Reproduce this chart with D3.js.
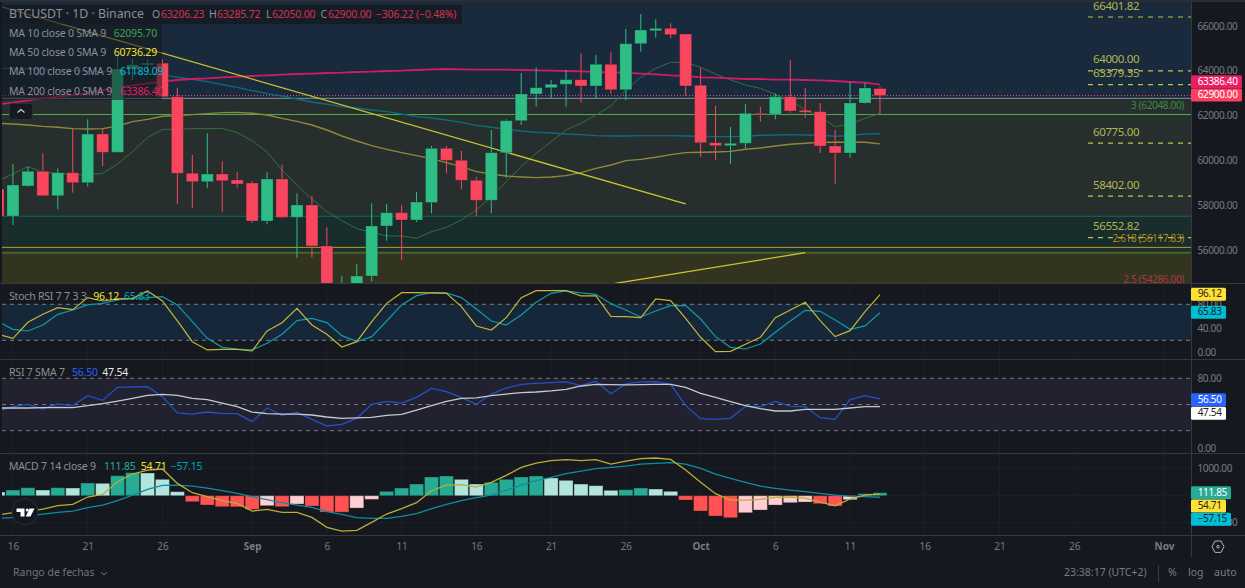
<!DOCTYPE html>
<html>
<head>
<meta charset="utf-8">
<script src="https://cdn.jsdelivr.net/npm/d3@7"></script>
<style>
  html, body { margin: 0; padding: 0; background: #15181e; overflow: hidden; }
  svg { display: block; font-family: "Noto Sans", sans-serif; }
  text { dominant-baseline: middle; }
</style>
</head>
<body>
<script>
// ------------  DATA  ------------
const firstDay = "2024-08-15";

const opens = [58723,57518,58857,59514,58424,59451,59005,61179,60362,64080,64270,64340,62844,59424,59050,59393,59125,58992,57295,59170,57460,58009,56179,53950,54160,54840,57072,57666,57340,58120,60540,60005,59112,58219,60344,61773,62964,63246,63397,63603,63322,64290,63156,65210,65790,65897,65643,63353,60790,60657,60764,62103,62060,62844,62236,62175,60643,60331,62563,63206.23];
const closes = [57518,58902,59514,58424,59451,59005,61179,60362,64080,64270,64340,62844,59424,59050,59393,59094,58947,57295,59170,57460,58009,56179,53950,54160,54840,57072,57666,57340,58143,60540,60005,59112,58219,60344,61773,62964,63246,63397,63603,63322,64290,63156,65210,65821,65897,65612,63322,60790,60657,60764,62103,62060,62844,62206,62148,60643,60331,62563,63232,62900];
const highs = [59100,59840,59718,60317,59648,61402,61835,61402,64630,64527,64500,64513,63246,60241,61210,59960,59483,59081,59469,59826,58532,58411,57014,54840,55362,58085,58054,57996,58590,60643,60643,60420,59246,61357,61835,63902,64156,63589,64036,64781,64705,64853,65866,66536,66299,66121,65643,64139,62429,61491,62505,62384,62996,64482,63232,62563,61357,63469,63469,63285.72];
const lows = [57300,57116,58826,58424,57817,58559,58826,59750,60362,63589,64000,62844,58054,57889,58755,57710,58782,57219,57148,57429,55657,55675,53700,53700,53700,54586,56416,55568,57250,57639,59424,58710,57518,57639,59228,61581,62398,62773,62398,62576,62773,62964,62697,64853,65478,65451,62889,60166,60018,59853,60540,61728,61835,62130,61907,60331,58960,60121,62530,62050];

const ma10 = [59081,59394,59721,59468,59423,59349,59349,59423,59840,60391,61016,61388,61388,61417,61417,61432,61239,60882,60376,59572,58903,58278,57712,57310,56953,56790,56626,56626,56522,56819,57013,57340,57787,58382,59051,59721,60316,60837,61358,61655,62027,62429,63143,63709,64111,64378,64378,64155,63858,63590,63367,63218,62950,62697,62251,61953,61507,61626,61879,62095.7];
const ma50 = [61655,61626,61581,61521,61477,61417,61402,61417,61536,61730,61834,61968,61998,62042,62087,62132,62146,62102,62027,61879,61745,61581,61358,61090,60867,60658,60495,60346,60212,60078,59900,59721,59498,59394,59304,59260,59230,59260,59319,59453,59647,59795,59989,60048,60138,60257,60346,60361,60376,60405,60495,60554,60644,60718,60763,60807,60807,60822,60807,60736.29];
const ma100 = [64111,64096,64081,64066,64051,64021,63992,63962,63932,63902,63873,63828,63709,63620,63515,63381,63262,63114,62980,62876,62742,62608,62504,62399,62340,62251,62176,62072,61953,61893,61804,61700,61566,61477,61388,61313,61254,61224,61179,61149,61105,61090,61090,61105,61105,61105,61090,61075,61060,61060,61075,61120,61135,61149,61135,61120,61075,61105,61179,61189.09];
const ma200 = [62504,62578,62682,62757,62846,62920,63024,63143,63262,63352,63441,63515,63590,63634,63664,63709,63739,63768,63798,63828,63858,63873,63902,63917,63947,63962,63992,64006,64036,64066,64081,64066,64051,64051,64051,64036,64021,64006,63992,63977,63947,63932,63917,63873,63843,63798,63768,63709,63694,63664,63634,63634,63605,63605,63590,63575,63545,63501,63471,63386.4];

const stochK = [30,23.3,50,63.3,74.4,71.1,91.1,85.5,88.9,90,102.2,85.5,52.2,17.7,3.9,5,5,2.2,35.5,49.4,73.3,45.5,30,8.9,17.7,51.1,81.6,99.4,99.4,98.9,98.3,76.1,43.9,37.2,57.8,91.1,102.8,102.8,102.8,93.9,93.9,60,59.4,57.8,88.9,86.1,56.6,25,1.1,1.6,13.3,25,57.8,70.5,83.3,52.8,26.1,36.1,67.8,96.12];
const stochD = [51.1,38.3,35.5,45.5,63.3,70.5,78.9,81.6,87.2,90,91.1,92.8,78.9,51.1,23.3,8.3,5.5,3.9,15,30,52.8,56.6,49.4,27.7,17.7,26.1,52.2,78.9,94.4,99.4,98.9,91.1,72.2,52.2,45.5,62.2,83.3,98.3,102.2,98.9,96.6,81.1,70.5,58.9,68.9,77.8,77.8,55.5,26.1,8.3,5.5,13.9,33.3,52.2,70,68.3,53.9,38.3,43.9,65.83];

const rsi = [42.6,47.5,50.2,44.9,50.6,48.7,60.1,54.8,69.7,70.1,70.4,59,40.3,39.1,41.4,39.9,39.5,30.4,46,37.6,41,33,25.4,27.3,34.2,50.2,53.6,51.7,58.2,68.5,64.7,57.8,50.2,62,68.9,73.1,74.3,75,75.8,71.6,76.6,62.4,73.5,75.8,76.2,73.1,48.7,33.8,33,34.2,47.9,47.5,53.6,47.9,47.5,34.9,33,55.6,60.1,56.5];
const rsiSma = [46,46,46,46.4,46.8,46.4,48.7,51,54,57.1,60.5,61.7,60.5,57.1,55.6,51.7,47.5,41.4,39.5,39.1,39.1,38,35.7,34.2,34.6,35.3,37.6,38.8,43.7,48.7,53.6,57.1,57.5,60.1,62,63.6,64.3,65.5,67.4,71.2,73.1,72.7,72.4,72.7,73.1,73.1,69.7,62.8,58.2,53.3,48.7,45.2,42.6,42.6,44.5,44.5,44.5,46,47.5,47.54];

const macdHist = [136,210,296,210,296,284,469,457,741,852,840,605,148,-222,-346,-408,-412,-506,-370,-408,-309,-383,-605,-608,-457,-136,161,284,432,692,729,605,432,494,605,692,729,655,568,432,370,198,222,284,247,161,-161,-568,-753,-815,-630,-531,-346,-259,-235,-296,-383,-148,74,111.85];
const macdLine = [-716,-630,-580,-494,-370,-321,-49,49,519,803,951,988,457,111,-37,-185,-284,-568,-506,-618,-618,-803,-1173,-1309,-1284,-988,-679,-482,-259,185,395,408,321,494,753,1050,1210,1297,1334,1297,1334,1173,1284,1371,1396,1346,951,494,74,-161,-161,-136,-62,-49,-86,-235,-371,-123,25,54.71];
const macdSignal = [-840,-815,-741,-679,-618,-568,-445,-346,-185,25,235,383,395,358,284,185,86,-37,-148,-259,-346,-432,-593,-692,-815,-840,-840,-766,-667,-482,-321,-185,-74,25,210,395,556,679,815,914,1000,1050,1099,1173,1198,1223,1173,1013,803,642,494,358,272,210,148,86,25,-25,-37,-57.15];

const trendDownDates = ["2024-08-15", "2024-09-30"];
const trendDownPrices = [66902, 58054];
const trendUpDates = ["2024-09-25", "2024-10-08"];
const trendUpPrices = [54478, 55880];

const levelValues = [66401.82, 64000, 63379.35, 60775, 58402, 56552.82];
const levelLabels = ["66401.82", "64000.00", "63379.35", "60775.00", "58402.00", "56552.82"];

const fibPrices = [62772, 62048, 57505, 56117.83, 55880];
const fibColors = ["#8f939b", "#4fae4b", "#0f6b5e", "#c39a2b", "#47632c"];
const fibWidths = [1, 1, 1, 1, 2];
const bandColors = ["#182a3c", "#262f2e", "#262f2e", "#182d2c", "#1b2e2a", "#33341f"];

const fibLabelPrices = [62048, 56117.83, 54286];
const fibLabels = ["3 (62048.00)", "2.618 (56117.83)", "2.5 (54286.00)"];
const fibLabelColors = ["#3f8a45", "#b5861f", "#ad3a3a"];

const priceTicks = [66000, 64000, 62000, 60000, 58000, 56000];
const stochTicks = [80, 40, 0];
const rsiTicks = [80, 0];
const macdTicks = [1000, -1000];
const timeTickDates = ["2024-08-16","2024-08-21","2024-08-26","2024-09-01","2024-09-06","2024-09-11","2024-09-16","2024-09-21","2024-09-26","2024-10-01","2024-10-06","2024-10-11","2024-10-16","2024-10-21","2024-10-26","2024-11-01"];
const timeTickLabels = ["16","21","26","Sep","6","11","16","21","26","Oct","6","11","16","21","26","Nov"];

// ------------  PARAMETERS  ------------
const svgWidth = 1245;
const svgHeight = 588;
const paneLeft = 2;
const paneRight = 1191;
const timeLine = 535;
const up = "#2ebd85", down = "#f9465f";
const gridColor = "#1d2026";
const axisColor = "#35383f";
const tickColor = "#787b86";

const svg = d3.select("body").append("svg").attr("width", svgWidth).attr("height", svgHeight);
svg.append("rect").attr("width", svgWidth).attr("height", svgHeight).attr("fill", "#15181e");
svg.append("rect").attr("width", svgWidth).attr("height", 2).attr("fill", "#2a2d33");

// ------------  SCALES  ------------
const parse = d3.utcParse("%Y-%m-%d");
const days = closes.map((d, i) => d3.utcDay.offset(parse(firstDay), i));
const x = d3.scaleUtc().domain([parse(firstDay), parse("2024-11-01")]).range([-2, 1164]);
const yPrice = d3.scaleLinear().domain([56000, 66000]).range([250, 26]);
const yStoch = d3.scaleLinear().domain([0, 80]).range([352.3, 304.3]);
const yRsi = d3.scaleLinear().domain([0, 80]).range([448.2, 378.3]);
const yMacd = d3.scaleLinear().domain([-1000, 1000]).range([522.7, 468.7]);

// clip areas for the four panes
const defs = svg.append("defs");
function addClip(id, y0, y1) {
  defs.append("clipPath").attr("id", id).append("rect")
    .attr("x", paneLeft).attr("y", y0).attr("width", paneRight - paneLeft).attr("height", y1 - y0);
}
addClip("pricePane", 2, 283);
addClip("stochPane", 285, 359);
addClip("rsiPane", 360, 453);
addClip("macdPane", 454, 535);

// ------------  GRID  ------------
const grid = svg.append("g");
grid.selectAll("line.v").data(timeTickDates).enter().append("line")
  .attr("x1", d => x(parse(d))).attr("x2", d => x(parse(d)))
  .attr("y1", 2).attr("y2", timeLine).attr("stroke", gridColor);
[[priceTicks, yPrice], [stochTicks, yStoch], [rsiTicks, yRsi], [[1000, 0, -1000], yMacd]].forEach(([ticks, scale]) => {
  grid.selectAll(null).data(ticks).enter().append("line")
    .attr("x1", paneLeft).attr("x2", paneRight)
    .attr("y1", d => scale(d)).attr("y2", d => scale(d)).attr("stroke", gridColor);
});

// ------------  PRICE PANE  ------------
const price = svg.append("g").attr("clip-path", "url(#pricePane)");

// fib bands, from the top of the pane down
const bandEdges = [2].concat(fibPrices.map(d => yPrice(d)), [283]);
price.selectAll("rect.band").data(bandColors).enter().append("rect")
  .attr("x", paneLeft).attr("width", paneRight - paneLeft)
  .attr("y", (d, i) => bandEdges[i]).attr("height", (d, i) => bandEdges[i + 1] - bandEdges[i])
  .attr("fill", d => d);

price.selectAll("line.fib").data(fibPrices).enter().append("line")
  .attr("x1", paneLeft).attr("x2", paneRight)
  .attr("y1", d => yPrice(d)).attr("y2", d => yPrice(d))
  .attr("stroke", (d, i) => fibColors[i]).attr("stroke-width", (d, i) => fibWidths[i]);

price.append("line")
  .attr("x1", paneLeft).attr("x2", paneRight)
  .attr("y1", yPrice(closes[closes.length - 1])).attr("y2", yPrice(closes[closes.length - 1]))
  .attr("stroke", "#d8567f").attr("stroke-dasharray", "1,2");

// user drawn levels on the right side
price.selectAll("line.level").data(levelValues).enter().append("line")
  .attr("x1", 1088).attr("x2", paneRight)
  .attr("y1", d => yPrice(d)).attr("y2", d => yPrice(d))
  .attr("stroke", "#c2c23c").attr("stroke-width", 1.2).attr("stroke-dasharray", "5,5");
svg.selectAll("text.level").data(levelLabels).enter().append("text")
  .attr("x", 1093).attr("y", (d, i) => yPrice(levelValues[i]) - 10.5)
  .attr("fill", "#b3b550").attr("font-size", 11.5).attr("letter-spacing", -0.38).text(d => d);

price.selectAll("text.fib").data(fibLabels).enter().append("text")
  .attr("x", 1184).attr("text-anchor", "end")
  .attr("y", (d, i) => yPrice(fibLabelPrices[i]) - 8)
  .attr("fill", (d, i) => fibLabelColors[i]).attr("font-size", 10).attr("letter-spacing", -0.33).text(d => d);

// moving averages
const priceLine = d3.line().x((d, i) => x(days[i])).y(d => yPrice(d));
[[ma10, "#35703a", 1], [ma50, "#8c8a35", 1.4], [ma100, "#0f6a80", 1.4], [ma200, "#d01c62", 1.8]].forEach(([values, color, w]) => {
  price.append("path").attr("d", priceLine(values)).attr("fill", "none").attr("stroke", color).attr("stroke-width", w);
});

// trend lines
const trendLine = d3.line().x(d => x(parse(d[0]))).y(d => yPrice(d[1]));
[[trendDownDates, trendDownPrices], [trendUpDates, trendUpPrices]].forEach(([dates, values]) => {
  price.append("path").attr("d", trendLine(d3.zip(dates, values)))
    .attr("fill", "none").attr("stroke", "#c9c62f").attr("stroke-width", 1.3);
});

// candles
const candles = price.selectAll("g.candle").data(days).enter().append("g");
candles.append("line")
  .attr("x1", d => x(d)).attr("x2", d => x(d))
  .attr("y1", (d, i) => yPrice(highs[i])).attr("y2", (d, i) => yPrice(lows[i]))
  .attr("stroke", (d, i) => closes[i] >= opens[i] ? up : down);
candles.append("rect")
  .attr("x", d => x(d) - 6).attr("width", 12)
  .attr("y", (d, i) => yPrice(Math.max(opens[i], closes[i])))
  .attr("height", (d, i) => Math.max(1, Math.abs(yPrice(opens[i]) - yPrice(closes[i]))))
  .attr("fill", (d, i) => closes[i] >= opens[i] ? up : down)
  .attr("stroke", "#15181e").attr("stroke-opacity", 0.25);

// ------------  STOCH RSI PANE  ------------
const stoch = svg.append("g").attr("clip-path", "url(#stochPane)");
stoch.append("rect").attr("x", paneLeft).attr("width", paneRight - paneLeft)
  .attr("y", yStoch(80)).attr("height", yStoch(20) - yStoch(80)).attr("fill", "#16273a");
stoch.selectAll("line").data([80, 20]).enter().append("line")
  .attr("x1", paneLeft).attr("x2", paneRight)
  .attr("y1", d => yStoch(d)).attr("y2", d => yStoch(d))
  .attr("stroke", "#787b86").attr("stroke-dasharray", "4,4");
const stochLine = d3.line().x((d, i) => x(days[i])).y(d => yStoch(d));
stoch.append("path").attr("d", stochLine(stochD)).attr("fill", "none").attr("stroke", "#0e9bad").attr("stroke-width", 1.2);
stoch.append("path").attr("d", stochLine(stochK)).attr("fill", "none").attr("stroke", "#c4b637").attr("stroke-width", 1.2);

// ------------  RSI PANE  ------------
const rsiPane = svg.append("g").attr("clip-path", "url(#rsiPane)");
rsiPane.append("rect").attr("x", paneLeft).attr("width", paneRight - paneLeft)
  .attr("y", yRsi(80)).attr("height", yRsi(20) - yRsi(80)).attr("fill", "#222130");
rsiPane.selectAll("line").data([80, 50, 20]).enter().append("line")
  .attr("x1", paneLeft).attr("x2", paneRight)
  .attr("y1", d => yRsi(d)).attr("y2", d => yRsi(d))
  .attr("stroke", "#787b86").attr("stroke-dasharray", "4,4");
const rsiLine = d3.line().x((d, i) => x(days[i])).y(d => yRsi(d));
rsiPane.append("path").attr("d", rsiLine(rsi)).attr("fill", "none").attr("stroke", "#2450c8").attr("stroke-width", 1.3);
rsiPane.append("path").attr("d", rsiLine(rsiSma)).attr("fill", "none").attr("stroke", "#c8c9cd").attr("stroke-width", 1.3);

// ------------  MACD PANE  ------------
const macd = svg.append("g").attr("clip-path", "url(#macdPane)");
function histColor(d, i) {
  const prev = i > 0 ? macdHist[i - 1] : d;
  if (d >= 0) return d > prev ? "#26ab94" : "#b2e5dd";
  return d < prev ? "#ff5252" : "#ffcdd2";
}
macd.selectAll("rect").data(macdHist).enter().append("rect")
  .attr("x", (d, i) => x(days[i]) - 7).attr("width", 14)
  .attr("y", d => Math.min(yMacd(d), yMacd(0)))
  .attr("height", d => Math.abs(yMacd(d) - yMacd(0)))
  .attr("fill", histColor)
  .attr("stroke", "#15181e").attr("stroke-opacity", 0.3);
const macdPath = d3.line().x((d, i) => x(days[i])).y(d => yMacd(d));
macd.append("path").attr("d", macdPath(macdSignal)).attr("fill", "none").attr("stroke", "#0e8da0").attr("stroke-width", 1.3);
macd.append("path").attr("d", macdPath(macdLine)).attr("fill", "none").attr("stroke", "#bcae35").attr("stroke-width", 1.3);

// ------------  AXES  ------------
function yAxis(scale, ticks) {
  const g = svg.append("g").attr("transform", "translate(" + paneRight + ",0)")
    .call(d3.axisRight(scale).tickValues(ticks).tickSize(0).tickPadding(6.5)
      .tickFormat(d => d3.format(".2f")(d).replace("-", "\u2212")));
  g.select(".domain").remove();
  g.selectAll("text").attr("fill", tickColor).attr("font-size", 10).attr("letter-spacing", -0.35)
    .attr("font-family", "Noto Sans").attr("dy", 0.5);
}
yAxis(yPrice, priceTicks);
yAxis(yStoch, stochTicks);
yAxis(yRsi, rsiTicks);
yAxis(yMacd, macdTicks);

const timeAxis = svg.append("g").attr("transform", "translate(0," + 547 + ")")
  .call(d3.axisBottom(x).tickValues(timeTickDates.map(parse)).tickSize(0).tickPadding(0)
    .tickFormat((d, i) => timeTickLabels[i]));
timeAxis.select(".domain").remove();
timeAxis.selectAll("text").attr("fill", tickColor).attr("font-size", 10).attr("font-family", "Noto Sans").attr("dy", 0)
  .attr("font-weight", (d, i) => isNaN(+timeTickLabels[i]) ? 700 : 400);

// pane separators
[283.5, 359.5, 453.5, 535.5].forEach(y => {
  svg.append("line").attr("x1", 0).attr("x2", svgWidth).attr("y1", y).attr("y2", y).attr("stroke", axisColor);
});
svg.append("line").attr("x1", paneRight + 0.5).attr("x2", paneRight + 0.5).attr("y1", 2).attr("y2", 557).attr("stroke", axisColor);

// ------------  AXIS TAGS  ------------
const tagTexts = ["63386.40", "62900.00", "96.12", "65.83", "56.50", "47.54", "111.85", "54.71", "\u221257.15"];
const tagCenters = [81.7, 95, 294.2, 312.3, 399.7, 413.3, 492.7, 506, 519.3];
const tagWidths = [51, 51, 35, 35, 35, 35, 40, 35, 40];
const tagFills = ["#e91e63", "#fb3f60", "#ffe135", "#00bcd4", "#2962ff", "#ffffff", "#26ab94", "#ffe135", "#00bcd4"];
const tagInks = ["#fff", "#fff", "#222", "#10262c", "#fff", "#222", "#fff", "#222", "#10262c"];
const tags = svg.selectAll("g.tag").data(tagTexts).enter().append("g");
tags.append("rect").attr("x", paneRight).attr("y", (d, i) => tagCenters[i] - 6.5)
  .attr("width", (d, i) => tagWidths[i]).attr("height", 13).attr("rx", 1.5)
  .attr("fill", (d, i) => tagFills[i]);
tags.append("text").attr("x", paneRight + 6.7).attr("y", (d, i) => tagCenters[i] + 0.5)
  .attr("fill", (d, i) => tagInks[i]).attr("font-size", 10).attr("letter-spacing", -0.35).text(d => d);

// ------------  LEGENDS  ------------
svg.append("rect").attr("x", paneLeft).attr("y", 5).attr("width", 460).attr("height", 19).attr("fill", "#15181e").attr("opacity", 0.72);
svg.append("rect").attr("x", paneLeft).attr("y", 24).attr("width", 160).attr("height", 76).attr("fill", "#15181e").attr("opacity", 0.55);

const grey = "#8b8f98", red = "#d8324f";
const legendTexts = [
  ["BTCUSDT \u00b7 1D \u00b7 Binance", 9, 15, grey, 12.3, 0],
  ["O", 152, 15, grey, 10.5, -0.2], ["63206.23", 161, 15, red, 10.5, -0.2],
  ["H", 209, 15, grey, 10.5, -0.2], ["63285.72", 217, 15, red, 10.5, -0.2],
  ["L", 266, 15, grey, 10.5, -0.2], ["62050.00", 272, 15, red, 10.5, -0.2],
  ["C", 320.5, 15, grey, 10.5, -0.2], ["62900.00", 328, 15, red, 10.5, -0.2],
  ["\u2212306.22 (\u22120.48%)", 376, 15, red, 10.5, -0.2],
  ["MA 10 close 0 SMA 9", 9, 34, grey, 10.5, -0.2], ["62095.70", 113.7, 34, "#3fa34d", 10.5, -0.2],
  ["MA 50 close 0 SMA 9", 9, 53, grey, 10.5, -0.2], ["60736.29", 113.7, 53, "#f2e133", 10.5, -0.2],
  ["MA 100 close 0 SMA 9", 9, 72, grey, 10.5, -0.2], ["61189.09", 120, 72, "#00bcd4", 10.5, -0.2],
  ["MA 200 close 0 SMA 9", 9, 92, grey, 10.5, -0.2], ["63386.40", 120, 92, "#e91e63", 10.5, -0.2],
  ["Stoch RSI 7 7 3 3", 9, 297.3, grey, 10.5, -0.2], ["96.12", 93.3, 297.3, "#f2e133", 10.5, -0.2], ["65.83", 124, 297.3, "#00a6b8", 10.5, -0.2],
  ["RSI 7 SMA 7", 9, 373, grey, 10.5, -0.2], ["56.50", 72, 373, "#2962ff", 10.5, -0.2], ["47.54", 102.3, 373, "#e8e8e8", 10.5, -0.2],
  ["MACD 7 14 close 9", 9, 467.3, grey, 10.5, -0.2], ["111.85", 104, 467.3, "#26ab94", 10.5, -0.2], ["54.71", 140.7, 467.3, "#f2e133", 10.5, -0.2], ["\u221257.15", 170.7, 467.3, "#00a6b8", 10.5, -0.2],
  ["Rango de fechas", 13, 573, "#70747e", 10.5, 0],
  ["23:38:17 (UTC+2)", 1064, 573, "#787b86", 10.5, 0],
  ["%", 1168, 573, "#787b86", 10.5, 0], ["log", 1188, 573, "#787b86", 10.5, 0], ["auto", 1214, 573, "#787b86", 10.5, 0]
];
svg.selectAll("text.legend").data(legendTexts).enter().append("text")
  .attr("x", d => d[1]).attr("y", d => d[2]).attr("fill", d => d[3]).attr("font-size", d => d[4])
  .attr("letter-spacing", d => d[5]).text(d => d[0]);

// collapse button, date range chevron, separator
svg.append("rect").attr("x", 9.5).attr("y", 103.5).attr("width", 23).attr("height", 16).attr("rx", 2)
  .attr("fill", "#16191f").attr("stroke", "#2c2f36");
svg.append("path").attr("d", "M17.5 112.5L21 109.5L24.5 112.5").attr("fill", "none").attr("stroke", "#d5d6d9").attr("stroke-width", 1.2);
svg.append("path").attr("d", "M101 572L104 575L107 572").attr("fill", "none").attr("stroke", "#70747e");
svg.append("line").attr("x1", 1158.5).attr("x2", 1158.5).attr("y1", 565).attr("y2", 582).attr("stroke", "#3a3d44");

// settings icon
svg.append("path").attr("d", "M1212 546.7L1215 541L1221 541L1224 546.7L1221 552.4L1215 552.4Z")
  .attr("fill", "none").attr("stroke", "#b2b5bc").attr("stroke-width", 1);
svg.append("circle").attr("cx", 1218).attr("cy", 546.7).attr("r", 1.3).attr("fill", "none").attr("stroke", "#b2b5bc");

// TradingView badge
svg.append("circle").attr("cx", 25).attr("cy", 511.7).attr("r", 13).attr("fill", "#131722").attr("stroke", "#2c2f36").attr("stroke-width", 1);
svg.append("path").attr("d", "M16.5 508.5H24.5V516.5H20.5V512H16.5Z").attr("fill", "#fff");
svg.append("circle").attr("cx", 27.2).attr("cy", 510).attr("r", 1.5).attr("fill", "#fff");
svg.append("path").attr("d", "M29.5 508.5H34.5L30.5 516.5H25.7Z").attr("fill", "#fff");
</script>
</body>
</html>
